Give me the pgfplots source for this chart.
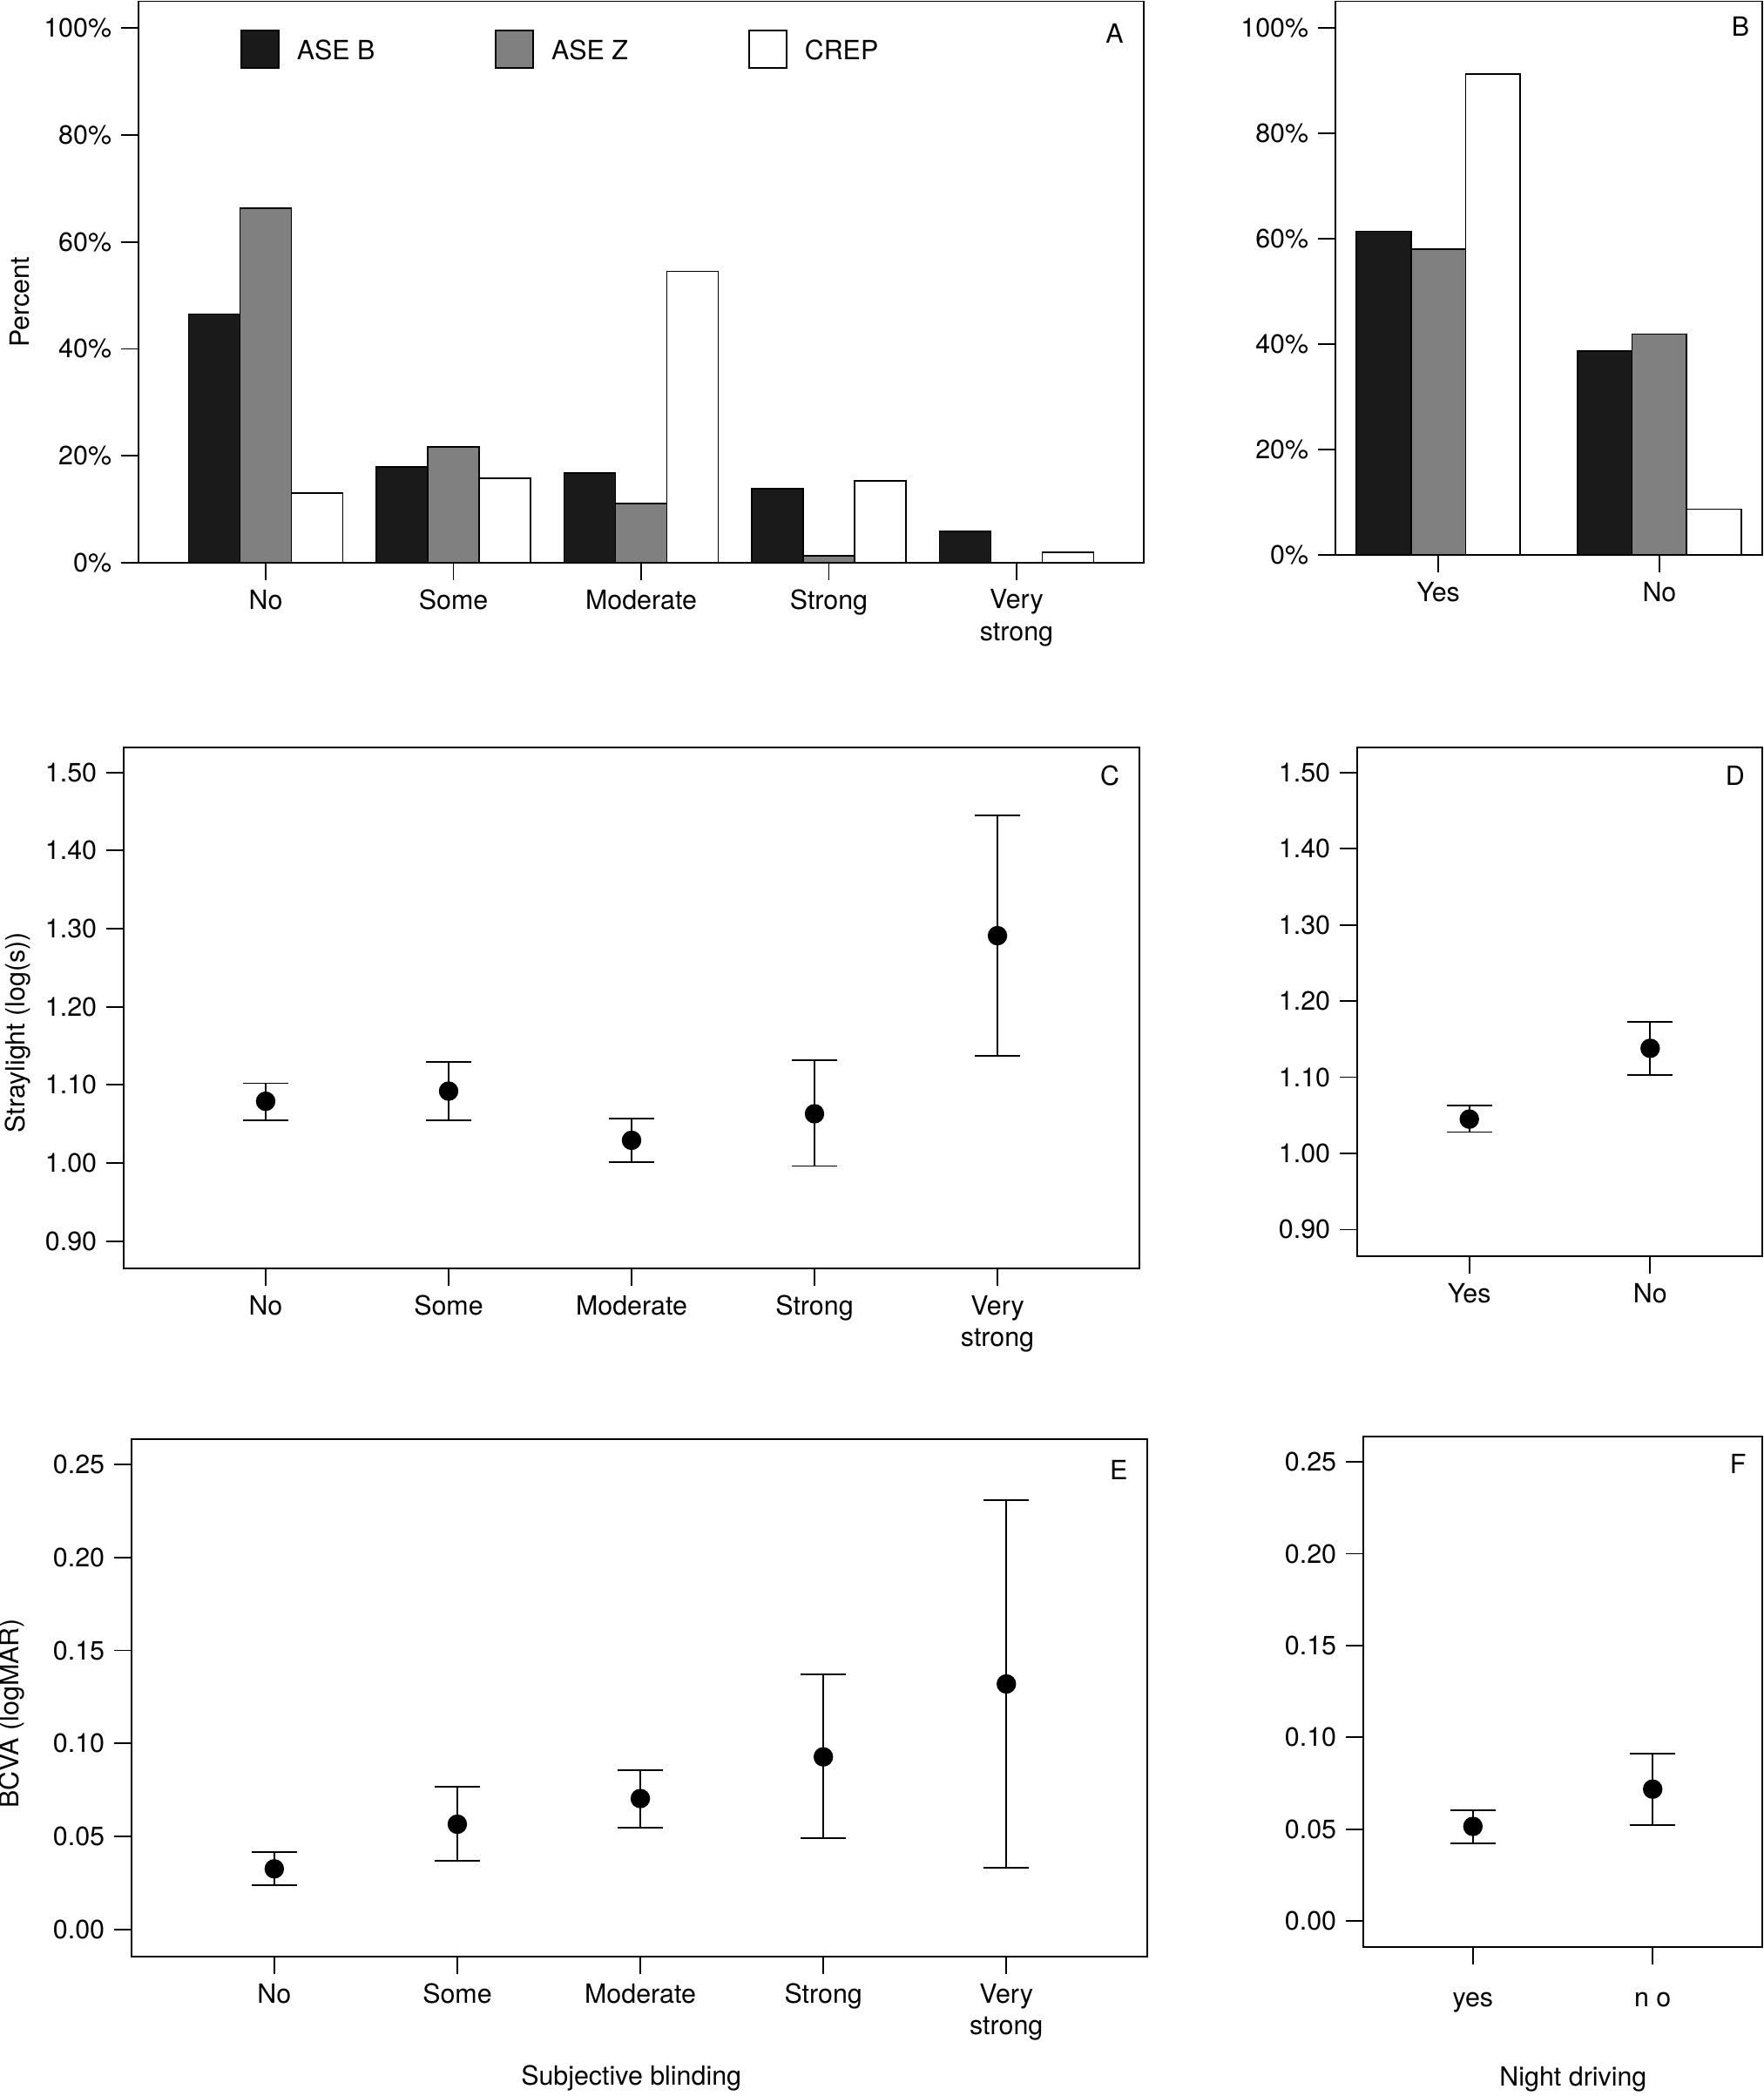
\documentclass[border=0pt]{standalone}
\usepackage{fontspec}
\setmainfont{TeX Gyre Heros}
\usepackage{pgfplots}
\pgfplotsset{compat=1.18}
\definecolor{barblack}{HTML}{1A1A1A}
\definecolor{bargray}{HTML}{808080}
\pgfplotsset{
  panel/.style={
    scale only axis,
    anchor=north west,
    axis line style={line width=0.45pt},
    every tick/.style={line width=0.45pt, black},
    tick align=outside,
    major tick length=5pt,
    tick pos=left,
    /pgf/number format/assume math mode=true,
    xticklabel style={align=center},
  },
  numfmt/.style={/pgf/number format/.cd, fixed, fixed zerofill, precision=2},
  boxlegend/.style={legend image code/.code={\draw[##1, line width=0.45pt] (0pt,-4.6pt) rectangle (10.75pt,6.15pt);}},
  errplot/.style={only marks, mark=*, mark size=2.6pt, black,
    error bars/.cd, y dir=both, y explicit, error mark=-,
    error bar style={line width=0.45pt, black},
    error mark options={rotate=90, mark size=6.5pt, line width=0.45pt, black}},
}
\begin{document}
\fontsize{7.6}{9.2}\selectfont
\begin{tikzpicture}
\path[use as bounding box] (0,0) rectangle (506pt,-601.5pt);

% ---------- A ----------
\begin{axis}[panel, at={(39.75pt,-0.375pt)}, width=288.5pt, height=161.1pt,
  ybar=0pt, bar width=14.75pt,
  every axis plot post/.append style={boxlegend},
  xmin=-0.678, xmax=4.678, ymin=0, ymax=105,
  xtick={0,1,2,3,4}, xticklabels={No,Some,Moderate,Strong,{Very\\strong}},
  ytick={0,20,40,60,80,100}, yticklabel={\pgfmathprintnumber{\tick}\%},
  ylabel={Percent}, ylabel style={at={(axis description cs:-0.118,0.464)}, anchor=center},
  legend columns=3,
  legend style={draw=none, fill=none, at={(0.1014,0.9493)}, anchor=north west,
    inner sep=0pt, outer sep=0pt, nodes={inner sep=0pt},
    /tikz/every odd column/.append style={column sep=5pt},
    /tikz/every even column/.append style={column sep=34.5pt}},
  ]
\addplot[fill=barblack, draw=black, line width=0.45pt] coordinates {(0,46.5) (1,17.9) (2,16.8) (3,13.8) (4,5.9)};
\addplot[fill=bargray, draw=black, line width=0.45pt] coordinates {(0,66.3) (1,21.6) (2,11.1) (3,1.3) (4,0)};
\addplot[fill=white, draw=black, line width=0.45pt] coordinates {(0,13.0) (1,15.8) (2,54.5) (3,15.3) (4,1.9)};
\legend{ASE B, ASE Z, CREP}
\node at (rel axis cs:0.971,0.942) {A};
\end{axis}

% ---------- B ----------
\begin{axis}[panel, at={(383.25pt,-0.375pt)}, width=122.5pt, height=158.9pt,
  ybar=0pt, bar width=15.7pt,
  xmin=-0.465, xmax=1.465, ymin=0, ymax=105,
  xtick={0,1}, xticklabels={Yes,No},
  ytick={0,20,40,60,80,100}, yticklabel={\pgfmathprintnumber{\tick}\%},
  ]
\addplot[fill=barblack, draw=black, line width=0.45pt] coordinates {(0,61.4) (1,38.7)};
\addplot[fill=bargray, draw=black, line width=0.45pt] coordinates {(0,58.0) (1,41.9)};
\addplot[fill=white, draw=black, line width=0.45pt] coordinates {(0,91.2) (1,8.7)};
\node at (rel axis cs:0.949,0.955) {B};
\end{axis}

% ---------- C ----------
\begin{axis}[panel, numfmt, at={(35.5pt,-214.5pt)}, width=291.5pt, height=149.5pt,
  xmin=-0.776, xmax=4.776, ymin=0.865, ymax=1.532,
  xtick={0,1,2,3,4}, xticklabels={No,Some,Moderate,Strong,{Very\\strong}},
  ytick={0.9,1.0,1.1,1.2,1.3,1.4,1.5},
  ylabel={Straylight (log(s))}, ylabel style={at={(axis description cs:-0.104,0.453)}, anchor=center},
  ]
\addplot[errplot] table[x=x, y=y, y error plus=p, y error minus=m, row sep=\\] {
x y p m \\
0 1.079 0.023 0.024 \\
1 1.092 0.037 0.037 \\
2 1.029 0.028 0.028 \\
3 1.063 0.069 0.067 \\
4 1.291 0.154 0.154 \\
};
\node at (rel axis cs:0.971,0.946) {C};
\end{axis}

% ---------- D ----------
\begin{axis}[panel, numfmt, at={(389.5pt,-214.5pt)}, width=116.25pt, height=146pt,
  xmin=-0.62, xmax=1.62, ymin=0.865, ymax=1.533,
  xtick={0,1}, xticklabels={Yes,No},
  ytick={0.9,1.0,1.1,1.2,1.3,1.4,1.5},
  ]
\addplot[errplot] table[x=x, y=y, y error plus=p, y error minus=m, row sep=\\] {
x y p m \\
0 1.045 0.018 0.017 \\
1 1.138 0.035 0.035 \\
};
\node at (rel axis cs:0.933,0.945) {D};
\end{axis}

% ---------- E ----------
\begin{axis}[panel, numfmt, at={(37.75pt,-413pt)}, width=291.5pt, height=148.5pt,
  xmin=-0.78, xmax=4.77, ymin=-0.0146, ymax=0.2636,
  xtick={0,1,2,3,4}, xticklabels={No,Some,Moderate,Strong,{Very\\strong}},
  ytick={0,0.05,0.10,0.15,0.20,0.25},
  ylabel={BCVA (logMAR)}, ylabel style={at={(axis description cs:-0.118,0.47)}, anchor=center},
  xlabel={Subjective blinding}, xlabel style={at={(axis description cs:0.492,-0.234)}, anchor=center},
  ]
\addplot[errplot] table[x=x, y=y, y error plus=p, y error minus=m, row sep=\\] {
x y p m \\
0 0.0326 0.0090 0.0088 \\
1 0.0566 0.0201 0.0197 \\
2 0.0704 0.0152 0.0157 \\
3 0.0928 0.0442 0.0437 \\
4 0.1320 0.0990 0.0988 \\
};
\node at (rel axis cs:0.972,0.941) {E};
\end{axis}

% ---------- F ----------
\begin{axis}[panel, numfmt, at={(391.25pt,-412.25pt)}, width=114.5pt, height=146.4pt,
  xmin=-0.61, xmax=1.61, ymin=-0.014, ymax=0.2638,
  xtick={0,1}, xticklabels={yes,n o},
  xticklabel style={yshift=-5.4pt},
  ytick={0,0.05,0.10,0.15,0.20,0.25},
  xlabel={Night driving}, xlabel style={at={(axis description cs:0.526,-0.26)}, anchor=center},
  ]
\addplot[errplot] table[x=x, y=y, y error plus=p, y error minus=m, row sep=\\] {
x y p m \\
0 0.0515 0.0088 0.0092 \\
1 0.0718 0.0195 0.0195 \\
};
\node at (rel axis cs:0.939,0.947) {F};
\end{axis}
\end{tikzpicture}
\end{document}
